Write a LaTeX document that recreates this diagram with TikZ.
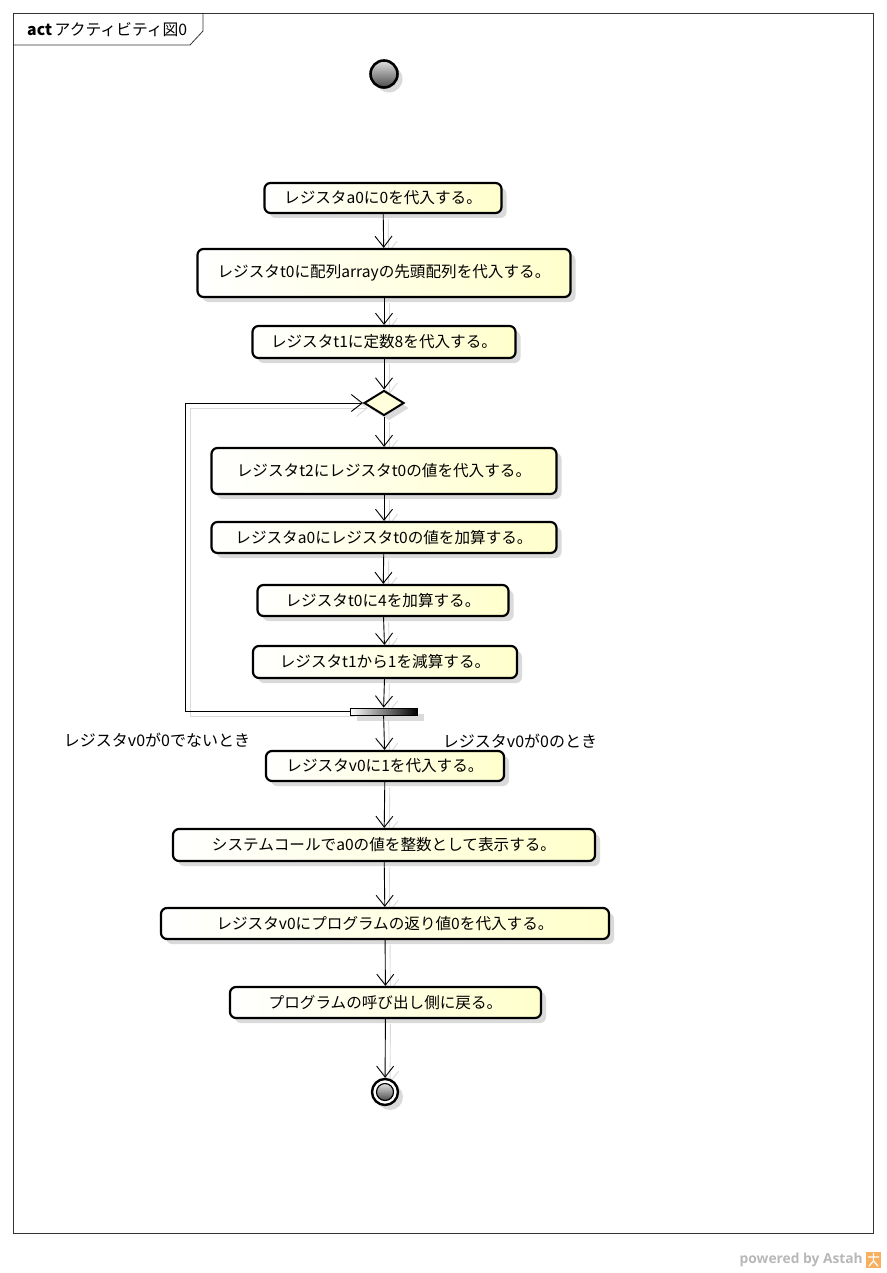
\documentclass[tikz,border=0pt]{standalone}
\usepackage{fontspec}
\setmainfont{Noto Sans CJK JP}
\newfontfamily\wmfont{Open Sans}
\usetikzlibrary{arrows.meta,shapes.geometric,shadows}
\definecolor{actyellow}{RGB}{255,255,204}
\definecolor{shadowgray}{RGB}{218,218,218}
\definecolor{astahorange}{RGB}{246,176,96}
\pgfdeclarelayer{background}
\pgfsetlayers{background,main}

\begin{document}
\begin{tikzpicture}[x=1pt,y=-1pt,>={Straight Barb[length=11pt,width=17pt]},
  action/.style={draw, rounded corners=6pt, line width=2.2pt, left color=white, right color=actyellow,
    drop shadow={shadow xshift=5pt, shadow yshift=-5pt, fill=shadowgray, opacity=1},
    inner sep=0pt, font=\fontsize{15.6pt}{18pt}\selectfont},
  flow/.style={->, line width=0.9pt},
  flowshadow/.style={->, line width=0.9pt, shadowgray, transform canvas={xshift=5pt,yshift=-5pt}},
  guard/.style={font=\fontsize{16pt}{18pt}\selectfont, inner sep=0pt}]
\useasboundingbox (0,0) rectangle (886,1273);
% frame
\draw[line width=0.8pt, black!80] (13,13) rectangle (873,1233);
\draw[line width=0.8pt, black!80] (13,45) -- (190,45) -- (203,31) -- (203,13);
\node[anchor=west, inner sep=0pt, font=\fontsize{15.8pt}{18pt}\selectfont] (frametitle) at (27,30) {\textbf{act}\,アクティビティ図0};

% start and actions
\node[circle, draw, line width=2.6pt, minimum size=27pt, inner sep=0pt, shading=axis, shading angle=45,
  top color=gray!25, bottom color=black!70, drop shadow={shadow xshift=5pt, shadow yshift=-5pt, fill=shadowgray, opacity=1}] (start) at (384,74) {};
\node[action, minimum width=237pt, minimum height=30pt] (a0) at (383,198) {レジスタa0に0を代入する。};
\node[action, minimum width=373pt, minimum height=48pt] (t0) at (384,273) {レジスタt0に配列arrayの先頭配列を代入する。};
\node[action, minimum width=263pt, minimum height=32pt] (t1) at (384,342) {レジスタt1に定数8を代入する。};
\node[diamond, draw, line width=2pt, fill=actyellow!70, minimum width=40pt, minimum height=25pt, inner sep=0pt,
  drop shadow={shadow xshift=5pt, shadow yshift=-5pt, fill=shadowgray, opacity=1}] (dec) at (384,403) {};
\node[action, minimum width=345pt, minimum height=46pt] (t2) at (384,471) {レジスタt2にレジスタt0の値を代入する。};
\node[action, minimum width=345pt, minimum height=31pt] (adda) at (384,537.5) {レジスタa0にレジスタt0の値を加算する。};
\node[action, minimum width=251pt, minimum height=31pt] (addt) at (383,600.5) {レジスタt0に4を加算する。};
\node[action, minimum width=264pt, minimum height=32pt] (subt) at (385,662) {レジスタt1から1を減算する。};
\node[rectangle, draw, line width=0.8pt, left color=white, right color=black, minimum width=67pt, minimum height=7pt, inner sep=0pt,
  drop shadow={shadow xshift=7pt, shadow yshift=-6pt, fill=shadowgray, opacity=1}] (bar) at (383.5,711.5) {};
\node[action, minimum width=238pt, minimum height=30pt] (v1) at (385,766) {レジスタv0に1を代入する。};
\node[action, minimum width=422pt, minimum height=32pt] (sys) at (384,845) {システムコールでa0の値を整数として表示する。};
\node[action, minimum width=448pt, minimum height=31pt] (ret) at (385,923.5) {レジスタv0にプログラムの返り値0を代入する。};
\node[action, minimum width=311pt, minimum height=31pt] (back) at (385.5,1002.5) {プログラムの呼び出し側に戻る。};
\node[circle, draw, line width=2.4pt, fill=white, minimum size=26pt, inner sep=0pt,
  drop shadow={shadow xshift=5pt, shadow yshift=-5pt, fill=shadowgray, opacity=1}] (end) at (385,1092) {};
\node[circle, draw, line width=1.2pt, minimum size=17pt, inner sep=0pt, shading=axis, shading angle=45,
  top color=gray!25, bottom color=black!70] (endin) at (end.center) {};

% guards
\node[guard] (notzero) at (157,740) {レジスタv0が0でないとき};
\node[guard] (iszero) at (520,741) {レジスタv0が0のとき};

% loop corner
\coordinate (loop) at (185,403);

% connector shadows
\begin{pgfonlayer}{background}
\draw[flowshadow] (a0) -- (t0);
\draw[flowshadow] (t0) -- (t1);
\draw[flowshadow] (t1) -- (dec);
\draw[flowshadow] (dec) -- (t2);
\draw[flowshadow] (t2) -- (adda);
\draw[flowshadow] (adda) -- (addt);
\draw[flowshadow] (addt) -- (subt);
\draw[flowshadow] (subt) -- (bar);
\draw[flowshadow] (bar.west) -| (loop) -- (dec.west);
\draw[flowshadow] (bar) -- (v1);
\draw[flowshadow] (v1) -- (sys);
\draw[flowshadow] (sys) -- (ret);
\draw[flowshadow] (ret) -- (back);
\draw[flowshadow] (back) -- (end);
\end{pgfonlayer}

% connectors
\draw[flow] (a0) -- (t0);
\draw[flow] (t0) -- (t1);
\draw[flow] (t1) -- (dec);
\draw[flow] (dec) -- (t2);
\draw[flow] (t2) -- (adda);
\draw[flow] (adda) -- (addt);
\draw[flow] (addt) -- (subt);
\draw[flow] (subt) -- (bar);
\draw[flow] (bar.west) -| (loop) -- (dec.west);
\draw[flow] (bar) -- (v1);
\draw[flow] (v1) -- (sys);
\draw[flow] (sys) -- (ret);
\draw[flow] (ret) -- (back);
\draw[flow] (back) -- (end);

% watermark
\node[anchor=east, inner sep=0pt, text=black!28, font=\wmfont\bfseries\fontsize{13.8pt}{15pt}\selectfont] (powered) at (863,1260) {powered by Astah};
\fill[astahorange] (866,1252) rectangle (881,1268);
\draw[white, line width=1.2pt] (868,1257) -- (879,1257) (873.5,1253) -- (873.5,1261) (869,1266) -- (873.5,1261) -- (878,1266);
\end{tikzpicture}
\end{document}
